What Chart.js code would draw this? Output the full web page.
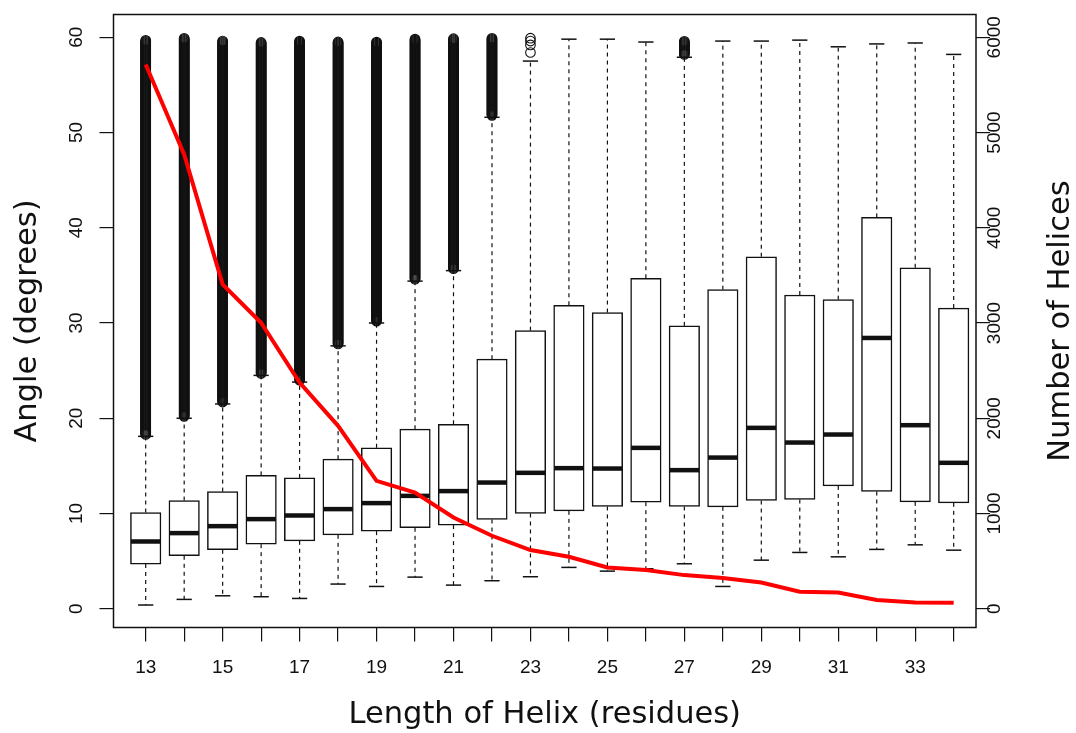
<!DOCTYPE html>
<html>
<head>
<meta charset="utf-8">
<title>Helix angle vs length</title>
<script src="https://cdn.jsdelivr.net/npm/chart.js@4.4.0/dist/chart.umd.min.js"></script>
<style>
    html, body { margin: 0; padding: 0; background: #fff; }
    #wrap { width: 1076px; height: 733px; }
</style>
</head>
<body>
<div id="wrap"><canvas id="helixChart" width="1076" height="733"></canvas></div>
<script>
// Helix length categories (residues)
const helixLengths = [13, 14, 15, 16, 17, 18, 19, 20, 21, 22, 23, 24, 25, 26, 27, 28, 29, 30, 31, 32, 33, 34];

// Box statistics for the angle (degrees)
const q1 = [4.69, 5.56, 6.19, 6.78, 7.13, 7.76, 8.15, 8.5, 8.78, 9.37, 10.0, 10.28, 10.74, 11.19, 10.74, 10.7, 11.36, 11.47, 12.9, 12.31, 11.22, 11.12];
const medians = [7.06, 7.94, 8.67, 9.41, 9.79, 10.46, 11.09, 11.85, 12.35, 13.25, 14.27, 14.76, 14.72, 16.89, 14.55, 15.87, 18.99, 17.45, 18.29, 28.43, 19.27, 15.32];
const q3 = [10.1, 11.36, 12.3, 14.0, 13.74, 15.7, 16.9, 18.85, 19.37, 26.2, 29.2, 31.86, 31.1, 34.7, 29.7, 33.5, 36.96, 32.94, 32.45, 41.09, 35.8, 31.57];
const whiskerLow = [0.39, 0.98, 1.36, 1.26, 1.08, 2.59, 2.34, 3.32, 2.48, 2.94, 3.36, 4.34, 3.95, 4.2, 4.72, 2.34, 5.1, 5.91, 5.45, 6.23, 6.71, 6.15];
const whiskerHigh = [18.1, 20.0, 21.5, 24.5, 23.8, 27.6, 30.0, 34.4, 35.5, 51.6, 57.5, 59.8, 59.8, 59.5, 57.9, 59.6, 59.6, 59.7, 59.0, 59.3, 59.4, 58.2];

// Outliers: dense runs (from / to) and a few single points
const outlierFrom = [18.3, 20.2, 21.7, 24.7, 24.0, 27.8, 30.2, 34.6, 35.7, 51.8, null, null, null, null, 58.2, null, null, null, null, null, null, null];
const outlierTo = [59.7, 59.9, 59.7, 59.5, 59.6, 59.6, 59.5, 59.8, 59.9, 59.9, null, null, null, null, 59.6, null, null, null, null, null, null, null];
const singleOutliers = [[23, 58.4], [23, 59.2], [23, 59.6], [23, 59.9]];

// Number of helices per length (right axis)
const helixCounts = [5714, 4770, 3406, 3003, 2374, 1920, 1343, 1220, 958, 766, 616, 545, 433, 406, 353, 322, 276, 178, 171, 91, 66, 63];

// Tick labels
const angleTicks = [0, 10, 20, 30, 40, 50, 60];
const countTicks = [0, 1000, 2000, 3000, 4000, 5000, 6000];
const lengthLabels = [13, 15, 17, 19, 21, 23, 25, 27, 29, 31, 33];

const BOX_WIDTH = 30.5;
const INK = '#111';
const TITLE_FONT = '"DejaVu Sans", sans-serif';
const TICK_FONT = '"Liberation Sans", Arial, sans-serif';

function strokeLine(ctx, x1, y1, x2, y2) {
    ctx.beginPath();
    ctx.moveTo(x1, y1);
    ctx.lineTo(x2, y2);
    ctx.stroke();
}

// whiskers, caps, medians et outliers par-dessus les boites
const boxExtras = {
    id: 'boxExtras',
    afterDatasetDraw(chart, args) {
        if (args.index !== 0) return;
        const ctx = chart.ctx;
        const x = chart.scales.x;
        const y = chart.scales.y;
        ctx.save();
        ctx.strokeStyle = INK;

        helixLengths.forEach((len, i) => {
            const cx = x.getPixelForValue(len);
            const capHalf = BOX_WIDTH / 4;

            ctx.lineWidth = 1.2;
            ctx.setLineDash([4, 4]);
            strokeLine(ctx, cx, y.getPixelForValue(q3[i]), cx, y.getPixelForValue(whiskerHigh[i]));
            strokeLine(ctx, cx, y.getPixelForValue(q1[i]), cx, y.getPixelForValue(whiskerLow[i]));
            ctx.setLineDash([]);

            ctx.lineWidth = 1.5;
            const yHi = y.getPixelForValue(whiskerHigh[i]);
            const yLo = y.getPixelForValue(whiskerLow[i]);
            strokeLine(ctx, cx - capHalf, yHi, cx + capHalf, yHi);
            strokeLine(ctx, cx - capHalf, yLo, cx + capHalf, yLo);

            ctx.lineWidth = 4.5;
            const ym = y.getPixelForValue(medians[i]);
            strokeLine(ctx, cx - BOX_WIDTH / 2 + 0.5, ym, cx + BOX_WIDTH / 2 - 0.5, ym);

            // dense run of overlapping open circles
            if (outlierFrom[i] !== null) {
                const top = y.getPixelForValue(outlierTo[i]);
                const bottom = y.getPixelForValue(outlierFrom[i]);
                ctx.lineWidth = 1.2;
                for (let py = bottom; py >= top; py -= 1) {
                    ctx.beginPath();
                    ctx.arc(cx, py, 4.8, 0, Math.PI * 2);
                    ctx.stroke();
                }
            }
        });

        ctx.lineWidth = 1.1;
        singleOutliers.forEach(([len, val]) => {
            ctx.beginPath();
            ctx.arc(x.getPixelForValue(len), y.getPixelForValue(val), 4.8, 0, Math.PI * 2);
            ctx.stroke();
        });
        ctx.restore();
    },
    afterDraw(chart) {
        const ctx = chart.ctx;
        const area = chart.chartArea;
        const x = chart.scales.x;
        const y = chart.scales.y;
        const y2 = chart.scales.y2;
        ctx.save();

        // cadre
        ctx.strokeStyle = INK;
        ctx.lineWidth = 1.5;
        ctx.strokeRect(area.left, area.top, area.right - area.left, area.bottom - area.top);

        ctx.fillStyle = INK;
        ctx.textAlign = 'center';
        ctx.textBaseline = 'middle';

        ctx.font = '19px ' + TICK_FONT;
        lengthLabels.forEach(v => ctx.fillText(String(v), x.getPixelForValue(v), 668));

        const rotated = (text, px, py) => {
            ctx.save();
            ctx.translate(px, py);
            ctx.rotate(-Math.PI / 2);
            ctx.fillText(text, 0, 0);
            ctx.restore();
        };
        angleTicks.forEach(v => rotated(String(v), 77, y.getPixelForValue(v)));
        countTicks.forEach(v => rotated(String(v), 995, y2.getPixelForValue(v)));

        ctx.font = '30.5px ' + TITLE_FONT;
        const midY = (area.top + area.bottom) / 2;
        ctx.fillText('Length of Helix (residues)', (area.left + area.right) / 2, 715);
        rotated('Angle (degrees)', 28, midY);
        rotated('Number of Helices', 1061, midY);
        ctx.restore();
    }
};

const tickGrid = {
    offset: false,
    drawOnChartArea: false,
    drawTicks: true,
    tickLength: 14,
    color: INK,
    lineWidth: 1.2
};

const ctx = document.getElementById('helixChart').getContext('2d');
new Chart(ctx, {
    type: 'bar',
    data: {
        datasets: [{
            label: 'Angle',
            data: helixLengths.map((len, i) => ({ x: len, y: [q1[i], q3[i]] })),
            backgroundColor: '#fff',
            borderColor: INK,
            borderWidth: 1.5,
            borderSkipped: false,
            barThickness: BOX_WIDTH,
            yAxisID: 'y',
            order: 1
        }, {
            type: 'line',
            label: 'Number of Helices',
            data: helixLengths.map((len, i) => ({ x: len, y: helixCounts[i] })),
            borderColor: '#ff0000',
            borderWidth: 4,
            pointRadius: 0,
            tension: 0,
            yAxisID: 'y2',
            order: 0
        }]
    },
    options: {
        responsive: false,
        devicePixelRatio: 1,
        animation: false,
        layout: { padding: { top: 14.5, left: 0, right: 0, bottom: 0 } },
        plugins: {
            legend: { display: false },
            tooltip: { enabled: false }
        },
        scales: {
            x: {
                type: 'linear',
                offset: false,
                min: 12.163,
                max: 34.58,
                grid: tickGrid,
                border: { display: false },
                ticks: { display: false },
                afterBuildTicks: s => { s.ticks = helixLengths.map(v => ({ value: v })); },
                afterFit: s => { s.height = 105.5; }
            },
            y: {
                position: 'left',
                min: -1.97,
                max: 62.39,
                grid: tickGrid,
                border: { display: false },
                ticks: { display: false },
                afterBuildTicks: s => { s.ticks = angleTicks.map(v => ({ value: v })); },
                afterFit: s => { s.width = 113.5; }
            },
            y2: {
                position: 'right',
                min: -197,
                max: 6239,
                grid: tickGrid,
                border: { display: false },
                ticks: { display: false },
                afterBuildTicks: s => { s.ticks = countTicks.map(v => ({ value: v })); },
                afterFit: s => { s.width = 100; }
            }
        }
    },
    plugins: [boxExtras]
});
</script>
</body>
</html>
